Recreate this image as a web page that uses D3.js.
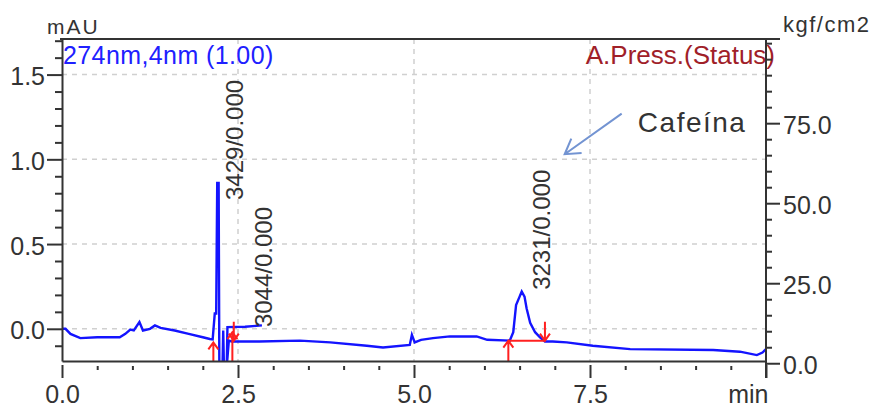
<!DOCTYPE html>
<html lang="pt">
<head>
<meta charset="UTF-8">
<title>Cromatograma 274nm - Cafeína</title>
<script src="https://cdnjs.cloudflare.com/ajax/libs/d3/7.8.5/d3.min.js"></script>
<style>
    body { margin: 0; background: #fff; overflow: hidden; }
    svg { font-family: "Liberation Sans", Arial, sans-serif; }
    .grid line { stroke: #d0d0d0; stroke-width: 1.5; stroke-dasharray: 5,5; }
    .axis path, .axis line { stroke: #333; stroke-width: 2; }
    .axis text { fill: #333; font-size: 25px; }
</style>
</head>
<body>
<div id="chart"></div>
<script>
// detector trace, retention time (min) / signal (mAU)
const traceTime = [0.00, 0.05, 0.12, 0.26, 0.50, 0.82, 0.90, 0.97, 1.02, 1.10, 1.15, 1.25, 1.32, 1.40, 1.60, 1.80, 2.00, 2.10, 2.14,
    2.17, 2.19, 2.205, 2.225, 2.235, 2.28, 2.29, 2.30, 2.34, 2.37, 2.41, 2.80, 3.38, 3.81, 4.33, 4.56, 4.94, 4.97, 5.01, 5.10,
    5.27, 5.51, 5.89, 6.04, 6.36, 6.41, 6.45, 6.50, 6.53, 6.57, 6.60, 6.65, 6.72, 6.79, 6.86, 6.97, 7.17, 7.54, 8.07, 9.25,
    9.63, 9.87, 9.95, 10.00];
const traceMAU = [0.00, 0.00, -0.03, -0.055, -0.05, -0.05, -0.03, -0.005, -0.01, 0.04, -0.01, 0.00, 0.02, 0.005, -0.01, -0.03, -0.05, -0.06, -0.062,
    0.09, 0.09, 0.86, 0.86, -0.22, -0.22, -0.01, -0.22, -0.22, -0.07, -0.075, -0.075, -0.07, -0.08, -0.10, -0.11, -0.095, -0.035, -0.08, -0.065,
    -0.055, -0.045, -0.045, -0.065, -0.07, -0.02, 0.14, 0.19, 0.22, 0.19, 0.12, 0.035, -0.02, -0.05, -0.075, -0.075, -0.08, -0.10, -0.12, -0.125,
    -0.135, -0.155, -0.14, -0.12];

// plateau of peak 3044
const plateauTime = [2.34, 2.35, 2.60, 2.84];
const plateauMAU = [-0.22, 0.01, 0.012, 0.02];

// peak labels
const peakLabels = ["3429/0.000", "3044/0.000", "3231/0.000"];
const labelTime = [2.57, 2.99, 6.93];
const labelMAU = [0.76, 0.01, 0.23];

// integration marks
const markTime = [2.15, 2.44, 2.42, 6.34, 6.86];
const markMAU = [-0.08, -0.07, -0.02, -0.07, -0.07];
const markDir = ["up", "down", "up", "up", "down"];
const baseTime = [6.34, 6.86];
const baseMAU = [-0.07, -0.07];

// ticks
const xMajor = [0, 2.5, 5, 7.5, 10];
const yMajor = [0, 0.5, 1.0, 1.5];
const pMajor = [0, 25, 50, 75];

// annotation
const noteText = "Cafeína";
const noteTime = [7.95, 7.14];   // tail, head
const noteMAU = [1.27, 1.03];

const width = 880, height = 411;
const margin = {top: 39, right: 114, bottom: 50, left: 62};
const innerW = width - margin.left - margin.right;
const innerH = height - margin.top - margin.bottom;

const svg = d3.select("#chart").append("svg")
    .attr("width", width)
    .attr("height", height);

const g = svg.append("g")
    .attr("transform", `translate(${margin.left},${margin.top})`);

const x = d3.scaleLinear().domain([0, 10]).range([0, innerW]);
const y = d3.scaleLinear().domain([-0.19, 1.71]).range([innerH, 0]);
const yp = d3.scaleLinear().domain([0.7, 101.3]).range([innerH, 0]);

svg.append("defs").append("clipPath").attr("id", "plot")
    .append("rect").attr("width", innerW).attr("height", innerH);

// grid
const grid = g.append("g").attr("class", "grid");
grid.selectAll("line.h").data(yMajor).join("line").attr("class", "h")
    .attr("x1", 0).attr("x2", innerW)
    .attr("y1", d => y(d)).attr("y2", d => y(d));
grid.selectAll("line.v").data(xMajor.slice(1, -1)).join("line").attr("class", "v")
    .attr("y1", 0).attr("y2", innerH)
    .attr("x1", d => x(d)).attr("x2", d => x(d));

// labels on top
g.append("text")
    .attr("x", 1).attr("y", 25)
    .attr("fill", "#2020ff")
    .style("font-size", "25px")
    .style("letter-spacing", "0.4px")
    .text("274nm,4nm (1.00)");

g.append("text")
    .attr("x", innerW + 9).attr("y", 25)
    .attr("text-anchor", "end")
    .attr("fill", "#a02028")
    .style("font-size", "26px")
    .text("A.Press.(Status)");

// traces
const line = d3.line().x(d => x(d[0])).y(d => y(d[1]));
const plot = g.append("g").attr("clip-path", "url(#plot)");

plot.append("path")
    .datum(traceTime.map((t, i) => [t, traceMAU[i]]))
    .attr("fill", "none")
    .attr("stroke", "#1414ff")
    .attr("stroke-width", 2.4)
    .attr("d", line);

plot.append("path")
    .datum(plateauTime.map((t, i) => [t, plateauMAU[i]]))
    .attr("fill", "none")
    .attr("stroke", "#1414ff")
    .attr("stroke-width", 2.4)
    .attr("d", line);

// integration baseline + arrows
plot.append("path")
    .datum(baseTime.map((t, i) => [t, baseMAU[i]]))
    .attr("fill", "none")
    .attr("stroke", "#ff2020")
    .attr("stroke-width", 2)
    .attr("d", line);

const marks = g.append("g").attr("stroke", "#ff2020").attr("stroke-width", 2).attr("fill", "none");
markTime.forEach((t, i) => {
    const px = x(t), py = y(markMAU[i]);
    const s = markDir[i] === "up" ? 1 : -1;
    const tail = markDir[i] === "up" ? innerH : py - 19;
    marks.append("path")
        .attr("d", `M${px},${tail}L${px},${py}M${px - 5},${py + s * 7}L${px},${py}L${px + 5},${py + s * 7}`);
});

// peak labels
g.selectAll("text.peak").data(peakLabels).join("text")
    .attr("class", "peak")
    .attr("transform", (d, i) => `translate(${x(labelTime[i])},${y(labelMAU[i])})rotate(-90)`)
    .attr("fill", "#333")
    .style("font-size", "24px")
    .text(d => d);

// Cafeína annotation
const tx = x(noteTime[0]), ty = y(noteMAU[0]);
const hx = x(noteTime[1]), hy = y(noteMAU[1]);
const ang = Math.atan2(ty - hy, tx - hx);
const al = 17, spread = 0.55;
g.append("path")
    .attr("d", `M${tx},${ty}L${hx},${hy}` +
        `M${hx + al * Math.cos(ang - spread)},${hy + al * Math.sin(ang - spread)}L${hx},${hy}` +
        `L${hx + al * Math.cos(ang + spread)},${hy + al * Math.sin(ang + spread)}`)
    .attr("fill", "none")
    .attr("stroke", "#7394d2")
    .attr("stroke-width", 2);
g.append("text")
    .attr("x", x(8.18)).attr("y", y(1.16))
    .attr("fill", "#333")
    .style("font-size", "28px")
    .style("letter-spacing", "1.5px")
    .text(noteText);

// axes
const yMinor = d3.range(-0.1, 1.75, 0.1).map(d => +d.toFixed(1)).filter(d => !yMajor.includes(d));
const left = g.append("g").attr("class", "axis")
    .call(d3.axisLeft(y).tickValues(yMajor).tickSize(15).tickPadding(2).tickSizeOuter(0).tickFormat(d3.format(".1f")));
left.selectAll("text").attr("dy", "0.4em");
g.append("g").attr("class", "axis")
    .call(d3.axisLeft(y).tickValues(yMinor).tickSize(7).tickFormat("").tickSizeOuter(0))
    .select(".domain").remove();

const xMinor = d3.range(0.5, 10, 0.5).filter(d => !xMajor.includes(d));
const bottom = g.append("g").attr("class", "axis")
    .attr("transform", `translate(0,${innerH})`)
    .call(d3.axisBottom(x).tickValues(xMajor).tickSize(17).tickPadding(7).tickSizeOuter(0)
        .tickFormat(d => d === 10 ? "min" : d3.format(".1f")(d)));
bottom.selectAll(".tick line").attr("y1", 4);
bottom.selectAll(".tick text").filter(d => d === 10).attr("text-anchor", "end").attr("x", 2);
g.append("g").attr("class", "axis")
    .attr("transform", `translate(0,${innerH})`)
    .call(d3.axisBottom(x).tickValues(xMinor).tickSize(9).tickFormat("").tickSizeOuter(0))
    .call(a => a.selectAll(".tick line").attr("y1", 5))
    .select(".domain").remove();

const pMinor = d3.range(5, 101, 5).filter(d => !pMajor.includes(d));
const right = g.append("g").attr("class", "axis")
    .attr("transform", `translate(${innerW},0)`)
    .call(d3.axisRight(yp).tickValues(pMajor).tickSize(14).tickPadding(3).tickSizeOuter(0).tickFormat(d3.format(".1f")));
right.select(".domain").attr("stroke", "#000").attr("stroke-width", 3)
    .attr("d", `M0,0V${innerH + 17}`);
right.selectAll("text").attr("dy", "0.4em");
g.append("g").attr("class", "axis")
    .attr("transform", `translate(${innerW},0)`)
    .call(d3.axisRight(yp).tickValues(pMinor).tickSize(6).tickFormat("").tickSizeOuter(0))
    .select(".domain").remove();

// top frame line
g.append("line")
    .attr("x1", -2).attr("x2", innerW + 14)
    .attr("y1", 0).attr("y2", 0)
    .attr("stroke", "#333").attr("stroke-width", 2);

// unit titles
svg.append("text")
    .attr("x", 47).attr("y", 34)
    .attr("fill", "#333")
    .style("font-size", "21px")
    .style("letter-spacing", "2px")
    .text("mAU");
svg.append("text")
    .attr("x", 783).attr("y", 32)
    .attr("fill", "#333")
    .style("font-size", "22px")
    .style("letter-spacing", "1.5px")
    .text("kgf/cm2");
</script>
</body>
</html>
